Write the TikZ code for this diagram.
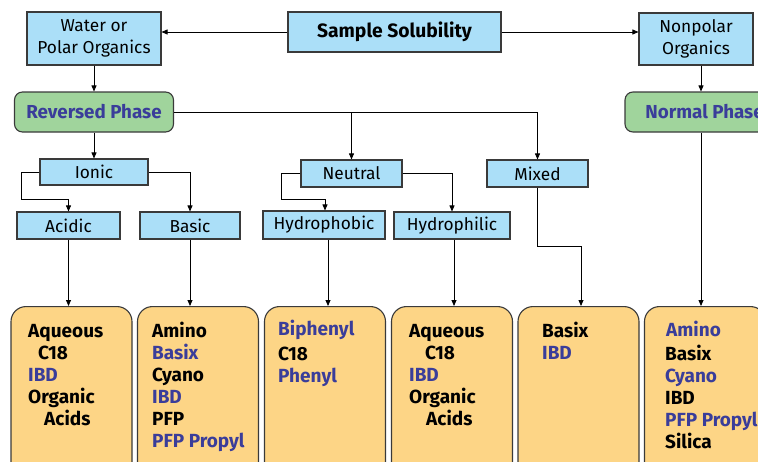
\documentclass[tikz,border=0pt]{standalone}
\usepackage{fontspec}
\setmainfont{Fira Sans}
\usetikzlibrary{arrows.meta,calc}
\definecolor{lblue}{HTML}{ABDFF8}
\definecolor{lgreen}{HTML}{A0D49C}
\definecolor{lorange}{HTML}{FDD586}
\definecolor{tblue}{HTML}{3A3D9A}
\definecolor{edge}{HTML}{3A3A3A}
\tikzset{
  x=1pt,y=-1pt,
  bx/.style={draw=edge,line width=1.1pt,fill=lblue,inner sep=0pt,font=\fontsize{17.3}{21.5}\selectfont,align=center},
  ph/.style={draw=edge,line width=1.1pt,fill=lgreen,rounded corners=8pt,inner sep=0pt,minimum width=159pt,minimum height=40pt,font=\bfseries\fontsize{18.8}{20}\selectfont,text=tblue},
  res/.style={draw=edge,line width=1.1pt,fill=lorange,rounded corners=15pt,inner sep=0pt,minimum width=121pt,minimum height=190pt,anchor=north},
  con/.style={draw=black,line width=0.8pt},
  arr/.style={con,-{Triangle[length=6pt,width=5pt]}},
  blk/.style={anchor=base west,inner sep=0pt,font=\bfseries\fontsize{19}{20}\selectfont,text=black},
  blu/.style={blk,text=tblue},
}
\begin{document}
\begin{tikzpicture}
\useasboundingbox (0,0) rectangle (758,461);
\clip (0,0) rectangle (758,461);
% top row
\node[bx,minimum width=213pt,minimum height=40pt,font=\bfseries\fontsize{19.3}{20}\selectfont] (S) at (394.5,32) {Sample Solubility};
\node[bx,minimum width=134pt,minimum height=53pt] (W) at (94,38.5) {Water or\\Polar Organics};
\node[bx,minimum width=114pt,minimum height=52pt] (N) at (696,39) {Nonpolar\\Organics};
% phases
\node[ph] (RP) at (94,112) {Reversed Phase};
\node[ph] (NP) at (704.5,112) {Normal Phase};
% middle
\node[bx,minimum width=108pt,minimum height=26pt] (I) at (94,172) {Ionic};
\node[bx,minimum width=103pt,minimum height=27pt] (Ac) at (68.5,225.5) {Acidic};
\node[bx,minimum width=100pt,minimum height=27pt] (Ba) at (190,225.5) {Basic};
\node[bx,minimum width=101pt,minimum height=27pt] (Ne) at (351.5,173.5) {Neutral};
\node[bx,minimum width=122pt,minimum height=28pt] (Hb) at (324,225) {Hydrophobic};
\node[bx,minimum width=116pt,minimum height=27pt] (Hl) at (452,225.5) {Hydrophilic};
\node[bx,minimum width=101pt,minimum height=27pt] (Mx) at (537.5,173.5) {Mixed};
% result boxes
\node[res] (B1) at (71.5,306) {};
\node[res] (B2) at (198,306) {};
\node[res] (B3) at (325,306) {};
\node[res] (B4) at (452,306) {};
\node[res] (B5) at (578.5,306) {};
\node[res] (B6) at (705,306) {};
% coordinates
\coordinate (ionL) at (21,199);
\coordinate (neuL) at (281,199);
\coordinate (mixK) at (581,246);
\coordinate (npx) at (701,0);
% connectors
\draw[arr] (S.west) -- (S.west -| W.east);
\draw[arr] (S.east) -- (S.east -| N.west);
\draw[arr] (W.south) -- (RP.north);
\draw[arr] (npx |- N.south) -- (npx |- NP.north);
\draw[arr] (RP.east) -| (Mx.north);
\draw[arr] (RP.east -| Ne.north) -- (Ne.north);
\draw[arr] (RP.south) -- (I.north);
\draw[arr] (I.west) -| (ionL) -| (Ac.north);
\draw[arr] (I.east) -| (Ba.north);
\draw[arr] (Ne.west) -| (neuL) -| ([xshift=1pt]Hb.north);
\draw[arr] (Ne.east) -| (Hl.north);
\draw[arr] (Ac.south) -- (Ac.south |- B1.north);
\draw[arr] (Ba.south) -- (Ba.south |- B2.north);
\draw[arr] ([xshift=4pt]Hb.south) -- ([xshift=4pt]Hb.south |- B3.north);
\draw[arr] ([xshift=2pt]Hl.south) -- ([xshift=2pt]Hl.south |- B4.north);
\draw[arr] (Mx.south) |- (mixK) -- (mixK |- B5.north);
\draw[arr] (npx |- NP.south) -- (npx |- B6.north);
% box texts
\node[blk] (t11) at (28,337) {Aqueous};
\node[blk] (t12) at (38,359) {C18};
\node[blu] (t13) at (28,381) {IBD};
\node[blk] (t14) at (28,403) {Organic};
\node[blk] (t15) at (44,425) {Acids};
\node[blk] (t21) at (152,337) {Amino};
\node[blu] (t22) at (152,359) {Basix};
\node[blk] (t23) at (152,381) {Cyano};
\node[blu] (t24) at (152,403) {IBD};
\node[blk] (t25) at (152,425) {PFP};
\node[blu] (t26) at (152,447) {PFP Propyl};
\node[blu] (t31) at (278,335) {Biphenyl};
\node[blk] (t32) at (278,360) {C18};
\node[blu] (t33) at (278,382) {Phenyl};
\node[blk] (t41) at (409,337) {Aqueous};
\node[blk] (t42) at (425,359) {C18};
\node[blu] (t43) at (409,381) {IBD};
\node[blk] (t44) at (409,403) {Organic};
\node[blk] (t45) at (426,425) {Acids};
\node[blk] (t51) at (542,337) {Basix};
\node[blu] (t52) at (542,359) {IBD};
\node[blu] (t61) at (666,336) {Amino};
\node[blk] (t62) at (665,360) {Basix};
\node[blu] (t63) at (665,382) {Cyano};
\node[blk] (t64) at (665,404) {IBD};
\node[blu] (t65) at (665,426) {PFP Propyl};
\node[blk] (t66) at (665,448) {Silica};
\end{tikzpicture}
\end{document}
